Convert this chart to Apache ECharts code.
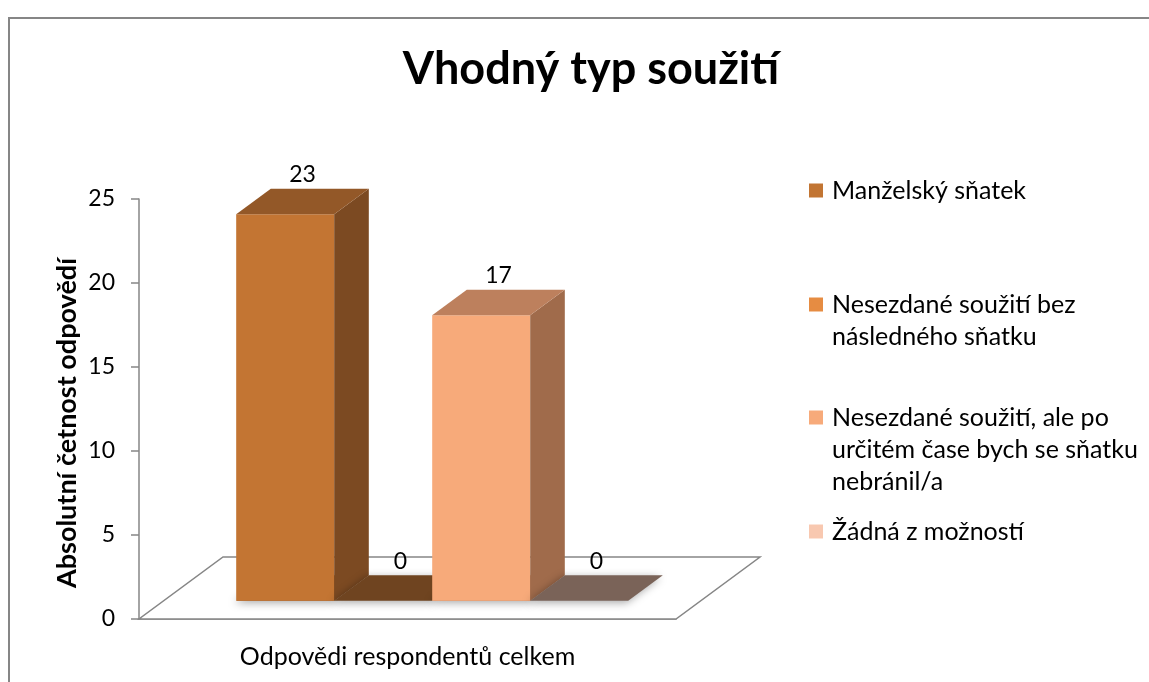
<!DOCTYPE html>
<html>
<head>
<meta charset="utf-8">
<title>Vhodný typ soužití</title>
<script src="https://cdn.jsdelivr.net/npm/echarts@6/dist/echarts.min.js"></script>
<style>
  html, body { margin: 0; padding: 0; background: #fff; overflow: hidden; width: 1149px; height: 682px; }
  #chart { width: 1149px; height: 682px; }
  /* chart area frame: only its left and top edges are in view */
  .edge { position: absolute; background: #868686; pointer-events: none; }
  #edgeTop { left: 8px; top: 17px; width: 1141px; height: 2px; }
  #edgeLeft { left: 8px; top: 17px; width: 2px; height: 665px; }
</style>
</head>
<body>
<div id="chart"></div>
<div class="edge" id="edgeTop"></div>
<div class="edge" id="edgeLeft"></div>
<script>
// data
var categories = ['Odpovědi respondentů celkem'];
var seriesNames = [
  'Manželský sňatek',
  'Nesezdané soužití bez následného sňatku',
  'Nesezdané soužití, ale po určitém čase bych se sňatku nebránil/a',
  'Žádná z možností'
];
var seriesValues = [23, 0, 17, 0];
var yTicks = [0, 5, 10, 15, 20, 25];

// how the legend text wraps
var legendLines = [
  ['Manželský sňatek'],
  ['Nesezdané soužití bez', 'následného sňatku'],
  ['Nesezdané soužití, ale po', 'určitém čase bych se sňatku', 'nebránil/a'],
  ['Žádná z možností']
];

// colours: legend / front face / top face / side face
var legendColors = ['#c27533', '#e68c42', '#f7aa7a', '#f8c8b0'];
var frontColors = ['#c37533', '#e68c42', '#f7aa7a', '#f8c8b0'];
var topColors = ['#935828', '#6f4420', '#bd805d', '#7a6358'];
var sideColors = ['#7c4a22', '#5a3718', '#a06b4b', '#6a564c'];

var FONT = 'Lato, "Open Sans", sans-serif';
var GRID = '#868686';

// 3d look: depth of the floor and where bars sit in it
var floorDx = 84, floorDy = -62;
var barFront = 0.294, barBack = 0.706;
var barShare = 0.1825; // each bar, as part of the category band

var chart = echarts.init(document.getElementById('chart'));

function floorItem(params, api) {
  var c = api.coord([0, 0]);
  var band = api.size([1, 0])[0];
  var x0 = c[0] - band / 2, x1 = c[0] + band / 2, y = c[1];
  return {
    type: 'polygon',
    shape: { points: [[x0, y], [x1, y], [x1 + floorDx, y + floorDy], [x0 + floorDx, y + floorDy]] },
    style: { fill: '#fff', stroke: GRID, lineWidth: 1.5 },
    silent: true
  };
}

function barRender(idx) {
  return function (params, api) {
    var base = api.coord([api.value(0), 0]);
    var top = api.coord([api.value(0), api.value(1)]);
    var band = api.size([1, 0])[0];
    var w = band * barShare;
    var fx = floorDx * barFront, fy = floorDy * barFront;
    var dx = floorDx * (barBack - barFront), dy = floorDy * (barBack - barFront);
    var x0 = base[0] - 2 * w + idx * w + fx;
    var x1 = x0 + w;
    var yb = base[1] + fy;
    var yt = top[1] + fy;
    var children = [];
    // footprint with soft shadow
    children.push({
      type: 'polygon',
      shape: { points: [[x0, yb], [x1, yb], [x1 + dx, yb + dy], [x0 + dx, yb + dy]] },
      style: {
        fill: topColors[idx],
        shadowBlur: 8, shadowColor: 'rgba(0,0,0,0.35)', shadowOffsetX: -2, shadowOffsetY: 2
      }
    });
    if (yb - yt > 0.5) {
      children.push({
        type: 'rect',
        shape: { x: x0, y: yt, width: w, height: yb - yt },
        style: { fill: frontColors[idx] }
      });
      children.push({
        type: 'polygon',
        shape: { points: [[x1, yb], [x1, yt], [x1 + dx, yt + dy], [x1 + dx, yb + dy]] },
        style: { fill: sideColors[idx] }
      });
      children.push({
        type: 'polygon',
        shape: { points: [[x0, yt], [x1, yt], [x1 + dx, yt + dy], [x0 + dx, yt + dy]] },
        style: { fill: topColors[idx] }
      });
    }
    children.push({
      type: 'text',
      style: {
        text: String(api.value(1)),
        x: (x0 + x1) / 2 + dx / 2,
        y: yt + dy - 14,
        align: 'center',
        verticalAlign: 'middle',
        font: '23px ' + FONT,
        fill: '#000'
      }
    });
    return { type: 'group', children: children };
  };
}

var series = [{
  type: 'custom',
  name: 'floor',
  silent: true,
  z: 1,
  data: [[0, 0]],
  renderItem: floorItem
}];
seriesNames.forEach(function (name, i) {
  series.push({
    type: 'custom',
    name: name,
    z: 2,
    itemStyle: { color: legendColors[i] },
    encode: { x: 0, y: 1 },
    data: [[0, seriesValues[i]]],
    renderItem: barRender(i)
  });
});

var legendTops = [178, 292, 405, 519];
var legends = seriesNames.map(function (name, i) {
  return {
    data: [name],
    orient: 'vertical',
    left: 804,
    top: legendTops[i],
    padding: 0,
    icon: 'none',
    itemWidth: 0,
    itemHeight: 0,
    selectedMode: false,
    formatter: function () {
      return legendLines[i].map(function (line, k) {
        return (k === 0 ? '{sq|}{gap|}' : '{ind|}') + '{t|' + line + '}';
      }).join('\n');
    },
    textStyle: {
      rich: {
        sq: { width: 14, height: 14, backgroundColor: legendColors[i], verticalAlign: 'middle' },
        gap: { width: 9, height: 14 },
        ind: { width: 23, height: 14 },
        t: { fontFamily: FONT, fontSize: 25, color: '#000', lineHeight: 32, verticalAlign: 'middle' }
      }
    }
  };
});

chart.setOption({
  animation: false,
  backgroundColor: '#fff',
  title: {
    text: 'Vhodný typ soužití',
    left: 586,
    top: 42,
    textAlign: 'center',
    textStyle: { fontFamily: FONT, fontSize: 45, fontWeight: 'bold', color: '#000' }
  },
  legend: legends,
  grid: { left: 139, right: 473, top: 199, bottom: 63 },
  xAxis: {
    type: 'category',
    data: categories,
    axisLine: { lineStyle: { color: GRID, width: 1.5 } },
    axisTick: { length: 7, lineStyle: { color: GRID, width: 1.5 } },
    axisLabel: { color: '#000', fontFamily: FONT, fontSize: 25, margin: 25 }
  },
  yAxis: {
    type: 'value',
    min: yTicks[0],
    max: yTicks[yTicks.length - 1],
    interval: yTicks[1] - yTicks[0],
    name: 'Absolutní četnost odpovědí',
    nameLocation: 'middle',
    nameGap: 58,
    nameTextStyle: { fontFamily: FONT, fontSize: 27, fontWeight: 'bold', color: '#000', padding: [0, 28, 0, 0] },
    axisLine: { show: true, lineStyle: { color: GRID, width: 1.5 } },
    axisTick: { show: true, length: 8, lineStyle: { color: GRID, width: 1.5 } },
    splitLine: { show: false },
    axisLabel: { color: '#000', fontFamily: FONT, fontSize: 23, margin: 24 }
  },
  series: series
});
</script>
</body>
</html>
